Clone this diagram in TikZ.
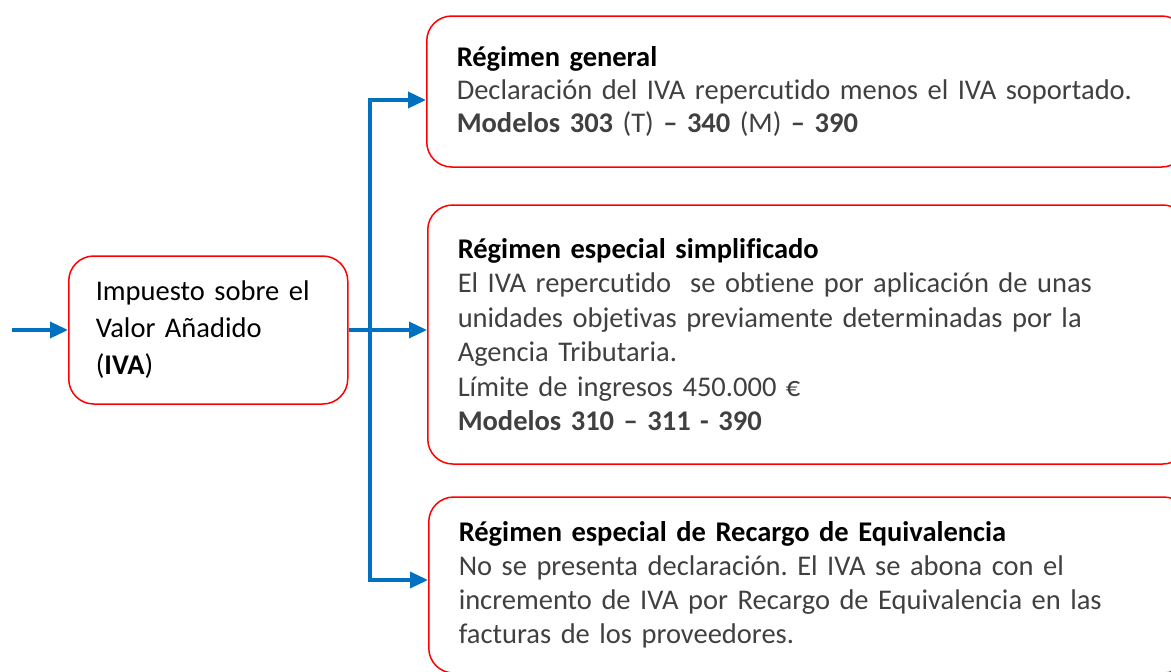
\documentclass[tikz,border=0pt]{standalone}
\usepackage{fontspec}
\setmainfont{Carlito}[Ligatures={NoCommon}]
\usetikzlibrary{arrows.meta}
\definecolor{lineblue}{HTML}{0070C0}
\definecolor{boxred}{HTML}{FF0000}
\definecolor{bodygray}{HTML}{404040}
\frenchspacing
\tikzset{
  box/.style={draw=boxred, line width=1.5pt, rounded corners=25pt, fill=white,
    anchor=west, align=left, inner ysep=0pt},
  conn/.style={draw=lineblue, line width=3.5pt},
  arr/.style={conn, -{Triangle[length=18pt,width=16pt]}},
}
\begin{document}
\begin{tikzpicture}[x=1pt,y=-1pt]
\useasboundingbox (0,0) rectangle (1171,672);
\clip (0,0) rectangle (1171,672);
\fill[white] (0,0) rectangle (1171,672);

\node[box, minimum width=279pt, minimum height=148pt, text width=225pt, inner xsep=27pt,
  font=\fontsize{28.5}{37}\selectfont] (iva) at (68,330)
  {Impuesto sobre el\\Valor Añadido\\(\textbf{IVA})};

\node[box, minimum width=760pt, minimum height=151pt, text width=700pt, inner xsep=28pt,
  font=\fontsize{28.5}{33}\selectfont] (b1) at (426,91.5)
  {\textbf{Régimen general}\\
   \textcolor{bodygray}{Declaración del IVA repercutido menos el IVA soportado.}\\
   \textcolor{bodygray}{\textbf{Modelos 303} (T) \textbf{– 340} (M) \textbf{– 390}}};

\node[box, minimum width=760pt, minimum height=259pt, text width=700pt, inner xsep=30pt,
  font=\fontsize{28.5}{34.5}\selectfont] (b2) at (427,334.5)
  {\textbf{Régimen especial simplificado}\\
   \textcolor{bodygray}{El IVA repercutido\ \ se obtiene por aplicación de unas}\\
   \textcolor{bodygray}{unidades objetivas previamente determinadas por la}\\
   \textcolor{bodygray}{Agencia Tributaria.}\\
   \textcolor{bodygray}{Límite de ingresos 450.000 €}\\
   \textcolor{bodygray}{\textbf{Modelos 310 – 311 - 390}}};

\node[box, minimum width=760pt, minimum height=176pt, text width=700pt, inner xsep=28pt,
  font=\fontsize{28.5}{34}\selectfont] (b3) at (428,585)
  {\textbf{Régimen especial de Recargo de Equivalencia}\\
   \textcolor{bodygray}{No se presenta declaración. El IVA se abona con el}\\
   \textcolor{bodygray}{incremento de IVA por Recargo de Equivalencia en las}\\
   \textcolor{bodygray}{facturas de los proveedores.}};

\coordinate (in) at (12,330);
\coordinate (split) at (370,330);
\coordinate (y1) at (0,100);
\coordinate (y3) at (0,580);

\draw[arr] (in) -- (iva.west);
\draw[conn] (iva.east) -- (split);
\draw[arr] (split) -- (split -| b2.west);
\draw[arr] (split) |- (b1.west |- y1);
\draw[arr] (split) |- (b3.west |- y3);
\end{tikzpicture}
\end{document}
